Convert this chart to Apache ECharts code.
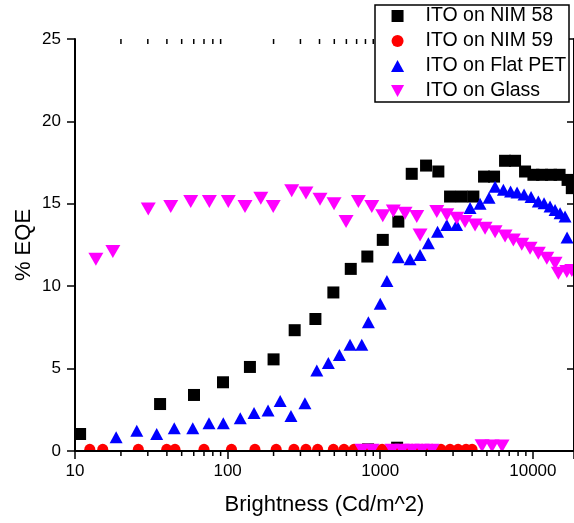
<!DOCTYPE html>
<html><head><meta charset="utf-8">
<script src="https://cdn.jsdelivr.net/npm/echarts@6/dist/echarts.min.js"></script>
<style>html,body{margin:0;padding:0;background:#fff}#c{width:574px;height:523px}</style>
</head><body><div id="c"></div>
<script>
// ---- data ----
const seriesNames = ['ITO on NIM 58', 'ITO on NIM 59', 'ITO on Flat PET', 'ITO on Glass'];

const nim58X = [10.8, 36.1, 60.2, 93.3, 140, 200, 275, 376, 493, 641, 823, 832, 1039, 1290, 1314, 1608, 1996, 2403, 2867, 3421, 4075, 4787, 5568, 6574, 7643, 8889, 10080, 11490, 13160, 14960, 16880, 17990];
const nim58Y = [1.03, 2.85, 3.4, 4.17, 5.1, 5.56, 7.33, 8.01, 9.62, 11.05, 11.8, 0.1, 12.81, 0.2, 13.92, 16.82, 17.32, 16.96, 15.44, 15.44, 15.44, 16.65, 16.65, 17.61, 17.61, 16.96, 16.76, 16.76, 16.76, 16.76, 16.45, 15.95];

const nim59X = [12.5, 15.2, 26.0, 39.9, 45.2, 70.0, 106, 151, 208, 272, 326, 389, 493, 579, 673, 775, 901, 1028, 1195, 1390, 1616, 1879, 2185, 2500, 2865, 3234, 3650, 3996];
const nim59Y = [0.1, 0.1, 0.1, 0.1, 0.1, 0.1, 0.1, 0.1, 0.1, 0.1, 0.1, 0.1, 0.1, 0.1, 0.1, 0.1, 0.1, 0.1, 0.1, 0.1, 0.1, 0.1, 0.1, 0.1, 0.1, 0.1, 0.1, 0.1];

const petX = [18.6, 25.4, 34.3, 44.7, 59.1, 75.5, 93.7, 121, 149, 184, 221, 260, 321, 384, 457, 540, 634, 757, 836, 1000, 1106, 1314, 1568, 1823, 2067, 2374, 2728, 3162, 3877, 4508, 5164, 5655, 6409, 7143, 7880, 8757, 9732, 10860, 11840, 12960, 13980, 15080, 16250, 16750];
const petY = [0.83, 1.23, 1.03, 1.38, 1.38, 1.68, 1.68, 1.99, 2.31, 2.45, 3.04, 2.13, 2.9, 4.89, 5.34, 5.83, 6.44, 6.44, 7.81, 8.93, 10.32, 11.75, 11.63, 11.9, 12.61, 13.3, 13.72, 13.72, 14.75, 15.0, 15.36, 16.03, 15.85, 15.74, 15.68, 15.57, 15.42, 15.14, 15.04, 14.83, 14.63, 14.43, 14.23, 12.96];

const glassX = [13.7, 17.7, 30.2, 42.4, 57.3, 75.9, 101, 130, 165, 199, 263, 326, 403, 498, 597, 719, 760, 880, 883, 1039, 1195, 1218, 1390, 1454, 1616, 1735, 1823, 1879, 2185, 2346, 2728, 3172, 3595, 4181, 4645, 4862, 5400, 5655, 6280, 6574, 7450, 8458, 9587, 10860, 12340, 13980, 14690, 16680, 18000];
const glassY = [11.64, 12.1, 14.68, 14.83, 15.14, 15.14, 15.14, 14.83, 15.34, 14.83, 15.79, 15.65, 15.28, 15.0, 13.92, 15.14, 0.05, 14.83, 0.05, 14.27, 0.05, 14.57, 0.05, 14.43, 0.05, 14.23, 13.11, 0.05, 0.05, 14.53, 14.33, 14.13, 13.92, 13.72, 0.32, 13.52, 0.3, 13.31, 0.3, 13.05, 12.81, 12.55, 12.31, 12.0, 11.7, 11.4, 10.79, 10.89, 10.95];

const xTickLabels = ['10', '100', '1000', '10000'];
const minorTickValues = [20, 30, 40, 50, 60, 70, 80, 90, 200, 300, 400, 500, 600, 700, 800, 900, 2000, 3000, 4000, 5000, 6000, 7000, 8000, 9000];

// ---- helpers ----
const zip = (xs, ys) => xs.map((x, i) => [x, ys[i]]);
const FONT = 'Liberation Sans, Arial, sans-serif';
const SQUARE = 'path://M0,0L10,0L10,10L0,10Z';
const UP_TRI = 'path://M6,0L12,11L0,11Z';
const DOWN_TRI = 'path://M0,0L12,0L6,11Z';
const X_MIN = 10, X_MAX = 18600, Y_MIN = 0, Y_MAX = 25;

const chart = echarts.init(document.getElementById('c'), null, {renderer: 'canvas'});

const axisLine = {show: true, lineStyle: {color: '#000', width: 2}};

chart.setOption({
  animation: false,
  backgroundColor: '#fff',
  textStyle: {fontFamily: FONT, color: '#000'},
  grid: {left: 75, right: 0, top: 39, bottom: 72, containLabel: false, outerBoundsMode: 'none'},
  legend: {
    orient: 'vertical', left: 391, top: 6, padding: 0, itemWidth: 46, itemHeight: 12, itemGap: 5,
    z: 13, selectedMode: false, symbolKeepAspect: true,
    textStyle: {fontFamily: FONT, fontSize: 19.5, color: '#000'},
    data: [
      {name: seriesNames[0], icon: SQUARE},
      {name: seriesNames[1], icon: 'circle'},
      {name: seriesNames[2], icon: UP_TRI},
      {name: seriesNames[3], icon: DOWN_TRI}
    ]
  },
  graphic: [
    // legend frame
    {type: 'rect', z: 12, shape: {x: 375, y: 5, width: 194, height: 97}, style: {fill: '#fff', stroke: '#000', lineWidth: 1.5}},
    // clip marks at the plot frame (below x axis, left of y axis)
    {type: 'rect', z: 5, shape: {x: 40, y: 452, width: 534, height: 14}, style: {fill: '#fff'}},
    {type: 'rect', z: 5, shape: {x: 62, y: 30, width: 13, height: 430}, style: {fill: '#fff'}}
  ],
  xAxis: [
    {
      type: 'log', logBase: 10, min: X_MIN, max: X_MAX, position: 'bottom', z: 10,
      name: 'Brightness (Cd/m^2)', nameLocation: 'middle', nameGap: 43, nameMoveOverlap: false,
      nameTextStyle: {fontFamily: FONT, fontSize: 22, color: '#000'},
      axisLine: axisLine,
      axisTick: {show: true, inside: false, length: 8, lineStyle: {color: '#000', width: 1.5}},
      axisLabel: {fontFamily: FONT, fontSize: 17, color: '#000', margin: 12, showMaxLabel: false,
        formatter: v => { const s = String(Math.round(v)); return xTickLabels.includes(s) ? s : ''; }},
      splitLine: {show: false}
    },
    {
      type: 'log', logBase: 10, min: X_MIN, max: X_MAX, position: 'top', z: 10,
      axisLine: axisLine,
      axisTick: {show: true, inside: true, length: 8, lineStyle: {color: '#000', width: 1.5}},
      axisLabel: {show: false}, splitLine: {show: false}
    }
  ],
  yAxis: [
    {
      type: 'value', min: Y_MIN, max: Y_MAX, interval: 5, position: 'left', z: 10,
      name: '% EQE', nameLocation: 'middle', nameGap: 40, nameMoveOverlap: false,
      nameTextStyle: {fontFamily: FONT, fontSize: 22, color: '#000'},
      axisLine: axisLine,
      axisTick: {show: true, inside: false, length: 8, lineStyle: {color: '#000', width: 1.5}},
      axisLabel: {fontFamily: FONT, fontSize: 17, color: '#000', margin: 14},
      splitLine: {show: false}
    },
    {
      type: 'value', min: Y_MIN, max: Y_MAX, interval: 5, position: 'right', z: 10,
      axisLine: axisLine,
      axisTick: {show: true, inside: true, length: 7, lineStyle: {color: '#000', width: 1.5}},
      axisLabel: {show: false}, splitLine: {show: false}
    }
  ],
  series: [
    {name: seriesNames[0], type: 'scatter', symbol: 'rect', symbolSize: 12,
     itemStyle: {color: '#000', opacity: 1}, data: zip(nim58X, nim58Y)},
    {name: seriesNames[1], type: 'scatter', symbol: 'circle', symbolSize: 11,
     itemStyle: {color: '#ff0000', opacity: 1}, data: zip(nim59X, nim59Y)},
    {name: seriesNames[2], type: 'scatter', symbol: 'triangle', symbolSize: [13, 12],
     itemStyle: {color: '#0000ff', opacity: 1}, data: zip(petX, petY)},
    {name: seriesNames[3], type: 'scatter', symbol: DOWN_TRI, symbolSize: [15, 13],
     itemStyle: {color: '#ff00ff', opacity: 1}, data: zip(glassX, glassY)},
    {
      name: 'minorTicks', type: 'custom', z: 11, silent: true, clip: false,
      data: minorTickValues.map(v => [v, Y_MIN]),
      renderItem: (params, api) => {
        const v = api.value(0);
        const b = api.coord([v, Y_MIN]);
        const t = api.coord([v, Y_MAX]);
        const st = {stroke: '#000', lineWidth: 1.5};
        return {type: 'group', children: [
          {type: 'line', shape: {x1: b[0], y1: b[1], x2: b[0], y2: b[1] + 5}, style: st},
          {type: 'line', shape: {x1: t[0], y1: t[1], x2: t[0], y2: t[1] + 5}, style: st}
        ]};
      }
    }
  ]
});
</script>
</body></html>
